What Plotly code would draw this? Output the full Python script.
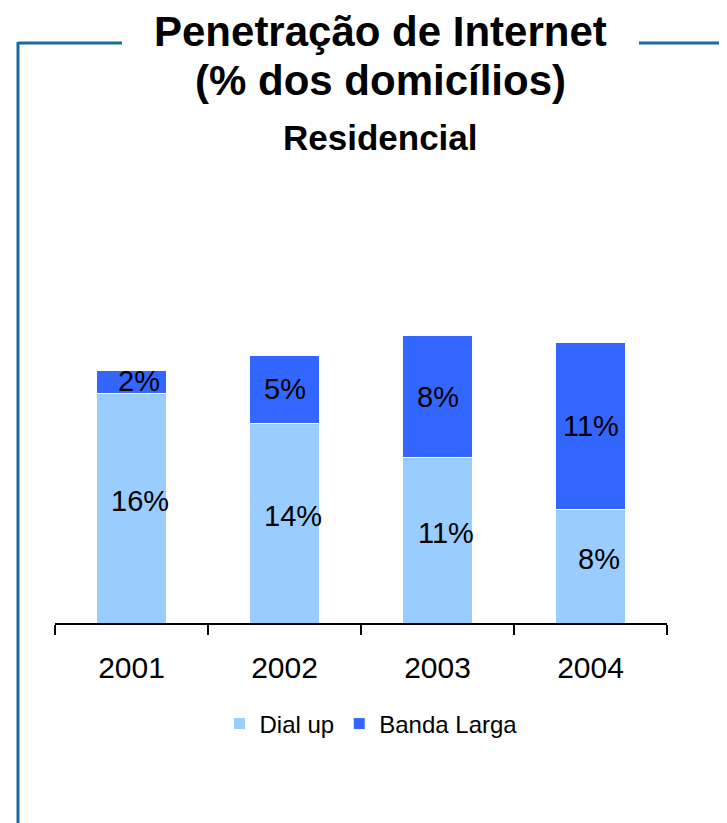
import plotly.graph_objects as go

W, H = 727, 823
OFF = 8  # page body margin offset

years = ["2001", "2002", "2003", "2004"]
dial_up = [16.0, 13.9, 11.5, 7.9]
banda_larga = [1.6, 4.7, 8.5, 11.6]
dial_labels = ["16%", "14%", "11%", "8%"]
banda_labels = ["2%", "5%", "8%", "11%"]

FONT = "Arial, Liberation Sans, Helvetica, sans-serif"
LIGHT = "#99CCFF"
DARK = "#3366FF"
FRAME = "#1a6aa0"

def px(x):
    return (x - OFF) / W

def py(y):
    return 1 - (y - OFF) / H

fig = go.Figure()
fig.add_trace(go.Bar(x=years, y=dial_up, name="Dial up", marker=dict(color=LIGHT, line=dict(color="white", width=1)), width=0.46))
fig.add_trace(go.Bar(x=years, y=banda_larga, name="Banda Larga", marker=dict(color=DARK, line=dict(color="white", width=1)), width=0.46))

annotations = []
for i, yr in enumerate(years):
    annotations.append(dict(x=i, y=dial_up[i] / 2, xref="x", yref="y", text=dial_labels[i], showarrow=False,
                            font=dict(family=FONT, size=29, color="black"), xshift=8, yshift=7))
    annotations.append(dict(x=i, y=dial_up[i] + banda_larga[i] / 2, xref="x", yref="y", text=banda_labels[i], showarrow=False,
                            font=dict(family=FONT, size=29, color="black"), xshift=(7 if i == 0 else 0)))

annotations += [
    dict(x=px(381), y=py(31), xref="paper", yref="paper", text="<b>Penetração de Internet</b>", showarrow=False,
         font=dict(family=FONT, size=42, color="black"), xanchor="center", yanchor="middle", borderpad=0),
    dict(x=px(381), y=py(80), xref="paper", yref="paper", text="<b>(% dos domicílios)</b>", showarrow=False,
         font=dict(family=FONT, size=42, color="black"), xanchor="center", yanchor="middle"),
    dict(x=px(381), y=py(137), xref="paper", yref="paper", text="<b>Residencial</b>", showarrow=False,
         font=dict(family=FONT, size=35, color="black"), xanchor="center", yanchor="middle"),
]

shapes = [
    dict(type="line", xref="paper", yref="paper", x0=px(18), x1=px(122), y0=py(43), y1=py(43), line=dict(color=FRAME, width=3)),
    dict(type="line", xref="paper", yref="paper", x0=px(639), x1=1, y0=py(43), y1=py(43), line=dict(color=FRAME, width=3)),
    dict(type="line", xref="paper", yref="paper", x0=px(18), x1=px(18), y0=py(42), y1=0, line=dict(color=FRAME, width=3)),
]

fig.update_layout(
    width=W, height=H,
    margin=dict(l=0, r=0, t=0, b=0),
    paper_bgcolor="white", plot_bgcolor="white",
    barmode="stack",
    showlegend=True,
    legend=dict(orientation="h", x=px(371), y=py(724), xanchor="center", yanchor="middle",
                font=dict(family=FONT, size=24, color="black"), traceorder="normal", itemclick=False),
    xaxis=dict(domain=[px(55), px(667)], range=[-0.5, 3.5], type="category",
               showline=True, linecolor="black", linewidth=1.5,
               ticks="outside", tickson="boundaries", ticklen=10, tickwidth=1.5, tickcolor="black",
               tickfont=dict(family=FONT, size=30, color="black"), showgrid=False, zeroline=False,
               ticklabelstandoff=17, fixedrange=True),
    yaxis=dict(domain=[py(623), py(335.5)], range=[0, 20], visible=False, fixedrange=True),
    annotations=annotations,
    shapes=shapes,
)

fig.write_html("out.html")
